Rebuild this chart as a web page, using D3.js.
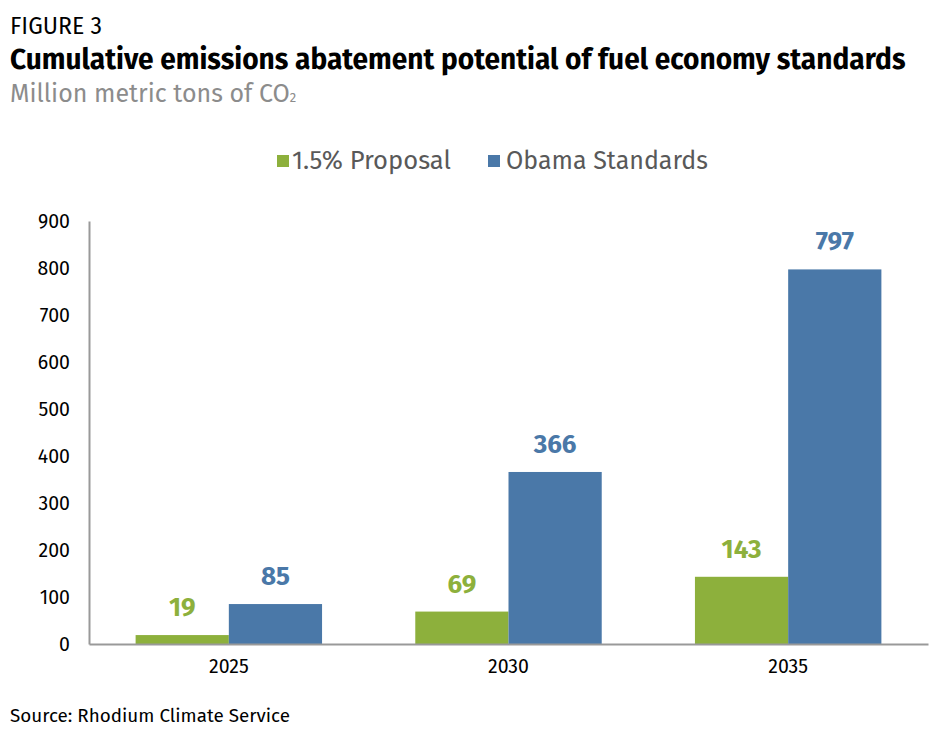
<!DOCTYPE html>
<html><head><meta charset="utf-8">
<script src="https://cdn.jsdelivr.net/npm/d3@7"></script>
<style>body{margin:0;background:#fff;} svg{display:block;}</style>
</head><body>
<svg id="chart" width="944" height="740"></svg>
<script>
const categories = ["2025", "2030", "2035"];
const seriesNames = ["1.5% Proposal", "Obama Standards"];
const proposal = [19, 69, 143];
const obama = [85, 366, 797];
const yTicks = [0, 100, 200, 300, 400, 500, 600, 700, 800, 900];
const colors = ["#8db03c", "#4a78a8"];

const FONT = "'Fira Sans','Open Sans','Noto Sans',sans-serif";
const svg = d3.select("#chart");
const W = 944, H = 740;
svg.append("rect").attr("width", W).attr("height", H).attr("fill", "#fff");

function fitText(sel, target) {
  const n = sel.node();
  const w = n.getComputedTextLength();
  const fs = parseFloat(sel.attr("font-size"));
  sel.attr("font-size", fs * target / w);
}

// Titles
const t1 = svg.append("text").attr("x", 10).attr("y", 34).attr("font-family", FONT)
  .attr("font-size", 20).attr("fill", "#000").text("FIGURE 3");
fitText(t1, 92);
const t2 = svg.append("text").attr("x", 10).attr("y", 69).attr("font-family", FONT)
  .attr("font-size", 24).attr("font-weight", "bold").attr("fill", "#000")
  .text("Cumulative emissions abatement potential of fuel economy standards");
fitText(t2, 896);
const t3 = svg.append("text").attr("x", 10).attr("y", 102).attr("font-family", FONT)
  .attr("font-size", 20).attr("fill", "#8c8c8c");
t3.append("tspan").text("Million metric tons of CO");
t3.append("tspan").attr("font-size", 13).text("2");
fitText(t3, 288);

// Scales
const x0 = d3.scaleBand().domain(categories).range([89, 928]).paddingInner(0).paddingOuter(0);
const x1 = d3.scaleBand().domain(seriesNames).range([0, x0.bandwidth()]).paddingInner(0).paddingOuter(0.5);
const y = d3.scaleLinear().domain([0, 900]).range([644, 221]);

const data = categories.map((c, i) => ({cat: c, values: [proposal[i], obama[i]]}));

// Axes
const yAxis = svg.append("g").attr("transform", "translate(89,0)")
  .call(d3.axisLeft(y).tickValues(yTicks).tickSize(0).tickPadding(19).tickFormat(d3.format("d")));
yAxis.select(".domain").attr("stroke", "#999").attr("stroke-width", 2);
yAxis.selectAll("text").attr("font-family", FONT).attr("font-size", 19.5).attr("fill", "#000");

// Bars
const groups = svg.append("g").selectAll("g").data(data).join("g")
  .attr("transform", d => `translate(${x0(d.cat)},0)`);
groups.selectAll("rect").data(d => d.values.map((v, j) => ({s: seriesNames[j], v, j})))
  .join("rect")
  .attr("x", d => x1(d.s)).attr("width", x1.bandwidth())
  .attr("y", d => y(d.v)).attr("height", d => y(0) - y(d.v))
  .attr("fill", d => colors[d.j]);
groups.selectAll("text.val").data(d => d.values.map((v, j) => ({s: seriesNames[j], v, j})))
  .join("text").attr("class", "val")
  .attr("x", d => x1(d.s) + x1.bandwidth() / 2).attr("y", d => y(d.v) - 19)
  .attr("text-anchor", "middle").attr("font-family", FONT).attr("font-size", 26)
  .attr("font-weight", "bold").attr("fill", d => colors[d.j]).text(d => d.v);

const xAxis = svg.append("g").attr("transform", "translate(0,644)")
  .call(d3.axisBottom(x0).tickSize(0).tickPadding(15));
xAxis.select(".domain").attr("stroke", "#999").attr("stroke-width", 2);
xAxis.selectAll("text").attr("font-family", FONT).attr("font-size", 19.5).attr("fill", "#000");

// Legend
const legendItems = [{x: 277, tx: 292, w: 159}, {x: 488, tx: 506, w: 202}];
seriesNames.forEach((s, i) => {
  const L = legendItems[i];
  svg.append("rect").attr("x", L.x).attr("y", 155).attr("width", 12).attr("height", 12).attr("fill", colors[i]);
  const t = svg.append("text").attr("x", L.tx).attr("y", 169).attr("font-family", FONT)
    .attr("font-size", 22).attr("fill", "#595959").text(s);
  fitText(t, L.w);
});

// Source
const src = svg.append("text").attr("x", 10).attr("y", 722).attr("font-family", FONT)
  .attr("font-size", 16).attr("fill", "#000").text("Source: Rhodium Climate Service");
fitText(src, 280);
</script>
</body></html>
